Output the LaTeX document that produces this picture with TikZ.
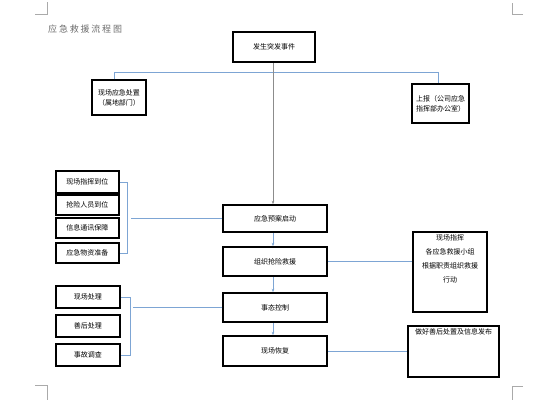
\documentclass[tikz,border=0pt]{standalone}
\usepackage{fontspec}
\newfontfamily\cjk{Noto Sans CJK SC}
\usetikzlibrary{arrows.meta}
\definecolor{linkblue}{RGB}{125,165,212}
\definecolor{darrow}{RGB}{140,140,140}
\definecolor{titlegray}{RGB}{110,110,110}
\definecolor{markgray}{RGB}{170,170,170}
\tikzset{
  box/.style={draw=black, line width=1.5pt, fill=white, inner sep=0pt, align=center,
    font=\cjk\fontsize{7}{10}\selectfont},
  link/.style={draw=linkblue, line width=0.9pt},
  flow/.style={draw=linkblue, line width=0.8pt, -{Stealth[length=3.5pt,width=2.6pt]}},
  mainflow/.style={draw=darrow, line width=0.9pt, -{Stealth[length=3.5pt,width=2.6pt]}},
  cornermark/.style={draw=markgray, line width=0.6pt},
}
\begin{document}
\begin{tikzpicture}[x=1pt,y=-1pt]
\useasboundingbox (0,0) rectangle (558,407);
% page corner marks
\draw[cornermark] (35,14) -- (47,14) -- (47,2);
\draw[cornermark] (523,14) -- (512,14) -- (512,3);
\draw[cornermark] (35,385) -- (47,385) -- (47,400);
\draw[cornermark] (523,386) -- (512,386) -- (512,400);
% title
\node[anchor=west, inner sep=0pt, text=titlegray, font=\cjk\fontsize{9}{9}\selectfont] (title) at (48,29)
  {应\hspace{1.8pt}急\hspace{1.8pt}救\hspace{1.8pt}援\hspace{1.8pt}流\hspace{1.8pt}程\hspace{1.8pt}图};
% top
\node[box, minimum width=82pt, minimum height=30pt] (start) at (274,47) {发生突发事件};
\node[box, minimum width=54pt, minimum height=35pt] (local) at (119,97.5) {现场应急处置\\（属地部门）};
\node[box, minimum width=57pt, minimum height=39pt] (report) at (440.5,103.5) {上报（公司应急\\指挥部办公室）};
% main column
\node[box, minimum width=104pt, minimum height=27pt] (b1) at (275,218.5) {应急预案启动};
\node[box, minimum width=104pt, minimum height=29pt] (b2) at (275,261.5) {组织抢险救援};
\node[box, minimum width=104pt, minimum height=29pt] (b3) at (275,307.5) {事态控制};
\node[box, minimum width=104pt, minimum height=30pt] (b4) at (275,351) {现场恢复};
% left upper
\node[box, minimum width=63pt, minimum height=22pt] (a1) at (87.5,182) {现场指挥到位};
\node[box, minimum width=63pt, minimum height=20pt] (a2) at (87.5,205) {抢险人员到位};
\node[box, minimum width=63pt, minimum height=20pt] (a3) at (87.5,228) {信息通讯保障};
\node[box, minimum width=63pt, minimum height=20pt] (a4) at (87.5,253) {应急物资准备};
% left lower
\node[box, minimum width=64pt, minimum height=22pt] (d1) at (88,297) {现场处理};
\node[box, minimum width=64pt, minimum height=22pt] (d2) at (88,326) {善后处理};
\node[box, minimum width=64pt, minimum height=22pt] (d3) at (88,355) {事故调查};
% right boxes
\node[box, minimum width=74pt, minimum height=80pt] (c1) at (450,272)
  {\parbox[t][74pt][t]{72pt}{\centering\fontsize{7}{14}\selectfont 现场指挥\\各应急救援小组\\根据职责组织救援\\行动}};
\node[box, minimum width=91pt, minimum height=51pt] (e1) at (453.5,351.5)
  {\parbox[t][46pt][t]{89pt}{\centering 做好善后处置及信息发布}};
% top branch
\coordinate (tl) at (114,72);
\coordinate (tr) at (438,72);
\coordinate (mx) at (273,0);
\draw[link] (local.north -| tl) -- (tl) -- (tr) -- (report.north -| tr);
\draw[mainflow] (start.south -| mx) -- (b1.north -| mx);
% main flow
\draw[flow] (b1.south -| mx) -- (b2.north -| mx);
\draw[flow] (b2.south -| mx) -- (b3.north -| mx);
\draw[flow] (b3.south -| mx) -- (b4.north -| mx);
% upper bracket
\coordinate (ub) at (127,0);
\draw[link] (a1.east) -- (a1.east -| ub) -- (a4.east -| ub) -- (a4.east);
\coordinate (uh) at (131,0);
\draw[link] (b1.west) -- (b1.west -| uh);
% lower bracket
\coordinate (lb) at (130,0);
\draw[link] (d1.east) -- (d1.east -| lb) -- (d3.east -| lb) -- (d3.east);
\coordinate (lh) at (133,0);
\draw[link] (b3.west) -- (b3.west -| lh);
% right links
\draw[link] (b2.east) -- (b2.east -| c1.west);
\draw[link] (b4.east) -- (b4.east -| e1.west);
\end{tikzpicture}
\end{document}
